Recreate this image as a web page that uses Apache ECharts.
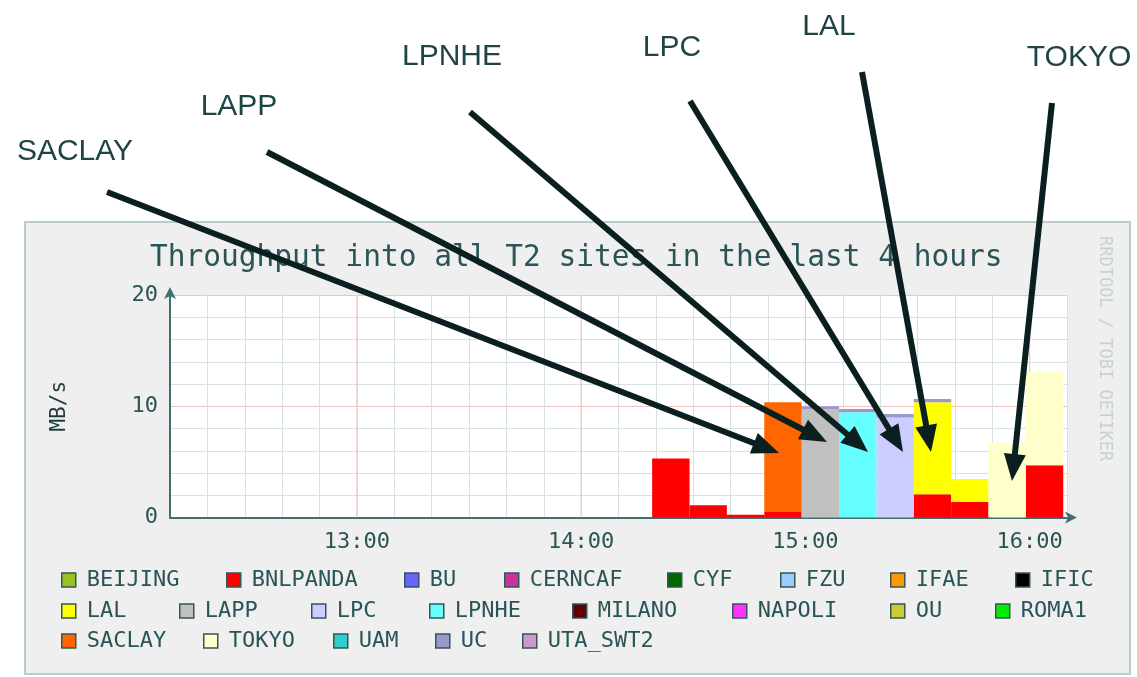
<!DOCTYPE html>
<html><head><meta charset="utf-8">
<script src="https://cdn.jsdelivr.net/npm/echarts@6/dist/echarts.min.js"></script>
<style>html,body{margin:0;padding:0;background:#fff}#c{width:1137px;height:677px}</style>
</head><body><div id="c"></div>
<script>
// ---- data ----
const binStarts = ['14:19','14:29','14:39','14:49','14:59','15:09','15:19','15:29','15:39','15:49','15:59'];
const BNLPANDA = [5.3, 1.1, 0.25, 0.5, 0, 0, 0, 2.1, 1.4, 0, 4.7];
const LAL      = [0, 0, 0, 0, 0, 0, 0, 8.25, 2.05, 0, 0];
const LAPP     = [0, 0, 0, 0, 9.7, 0, 0, 0, 0, 0, 0];
const LPC      = [0, 0, 0, 0, 0, 0, 9.0, 0, 0, 0, 0];
const LPNHE    = [0, 0, 0, 0, 0, 9.45, 0, 0, 0, 0, 0];
const SACLAY   = [0, 0, 0, 9.85, 0, 0, 0, 0, 0, 0, 0];
const TOKYO    = [0, 0, 0, 0, 0, 0, 0, 0, 0, 6.75, 8.4];
const UC       = [0, 0, 0, 0, 0.3, 0.3, 0.3, 0.3, 0, 0, 0];
const sites = ['BEIJING','BNLPANDA','BU','CERNCAF','CYF','FZU','IFAE','IFIC',
               'LAL','LAPP','LPC','LPNHE','MILANO','NAPOLI','OU','ROMA1',
               'SACLAY','TOKYO','UAM','UC','UTA_SWT2'];
const hourTicks = ['13:00','14:00','15:00','16:00'];
const yTicks = [0, 10, 20];
const titleText = 'Throughput into all T2 sites in the last 4 hours';
const yName = 'MB/s';
const credit = 'RRDTOOL / TOBI OETIKER';
const notes = ['SACLAY','LAPP','LPNHE','LPC','LAL','TOKYO'];

// ---- style / layout ----
const siteValues = {BNLPANDA, LAL, LAPP, LPC, LPNHE, SACLAY, TOKYO, UC};
const colors = ['#99c21e','#ff0000','#6666ff','#cc3399','#006600','#99ccff','#ff9900','#000000',
                '#ffff00','#c0c0c0','#ccccff','#66ffff','#660000','#ff33ff','#cccc33','#00ee00',
                '#ff6600','#ffffcc','#33cccc','#9999cc','#cc99cc'];
const legendPos = [
  [61,569],[226,569],[404,569],[504,569],[667,569],[780,569],[890,569],[1015,569],
  [61,600],[179,600],[311,600],[429,600],[572,600],[732,600],[890,600],[995,600],
  [61,630],[203,630],[333,630],[435,630],[522,630]];
const notePos = [[75,152],[239,107],[452,57],[672,48],[829,27],[1079,58]];
const arrowPos = [[107,192,779,453],[267,152,827,442],[470,112,868,452],[690,101,903,452],[862,72,931,452],[1052,103,1012,481]];
const txt = '#2a5557';
const mono = 'DejaVu Sans Mono';
const BIN = 10;

function toMin(s){ const p = s.split(':').map(Number); return p[0]*60 + p[1]; }
function fmtMin(v){ const h = Math.floor(v/60), m = v%60; return (h<10?'0':'')+h+':'+(m<10?'0':'')+m; }

const base = binStarts.map(() => 0);
const series = sites.map((name, k) => {
  const vals = siteValues[name] || [];
  const data = [];
  vals.forEach((v, i) => {
    if (v > 0) { data.push([toMin(binStarts[i]), base[i], base[i] + v]); base[i] += v; }
  });
  return {
    name, type: 'custom', data, z: 3,
    encode: {x: 0, y: 2},
    itemStyle: {color: colors[k]},
    renderItem: (params, api) => {
      const p0 = api.coord([api.value(0), api.value(1)]);
      const p1 = api.coord([api.value(0) + BIN, api.value(2)]);
      return {type: 'rect', shape: {x: p0[0], y: p1[1], width: p1[0] - p0[0], height: p0[1] - p1[1]},
              style: {fill: colors[k]}};
    }
  };
});

const minor = '#d6e2e2', major = '#f0c2c2';
// hour major grid lines (drawn beneath the bars)
series.unshift({
  name: '_hours', type: 'custom', z: 1, silent: true,
  data: hourTicks.map(t => [toMin(t)]),
  encode: {x: 0},
  renderItem: (params, api) => {
    const a = api.coord([api.value(0), 0]);
    const b = api.coord([api.value(0), 20]);
    return {type: 'line', shape: {x1: a[0], y1: a[1], x2: b[0], y2: b[1]}, style: {stroke: major, lineWidth: 1}};
  }
});

const legends = sites.map((name, k) => ({
  data: [name], left: legendPos[k][0], top: legendPos[k][1], padding: 0,
  icon: 'rect', itemWidth: 14, itemHeight: 14, selectedMode: false,
  itemStyle: {borderColor: '#345656', borderWidth: 1.5},
  textStyle: {fontFamily: mono, fontSize: 22, lineHeight: 22, color: txt, padding: [0,0,0,6]}
}));

const hourSet = new Set(hourTicks.map(toMin));
const ySet = new Set(yTicks);

function arrow(a){
  const [x1,y1,x2,y2] = a;
  const dx = x2-x1, dy = y2-y1, L = Math.hypot(dx,dy), ux = dx/L, uy = dy/L;
  const hl = 27, hw = 11;
  const bx = x2-ux*hl, by = y2-uy*hl;
  return [
    {type:'line', z: 100, shape:{x1, y1, x2: bx+ux*3, y2: by+uy*3}, style:{stroke:'#0c1f20', lineWidth:6}},
    {type:'polygon', z: 100, shape:{points:[[x2,y2],[bx-uy*hw, by+ux*hw],[bx+uy*hw, by-ux*hw]]}, style:{fill:'#0c1f20'}}
  ];
}

const graphics = [
  {type:'rect', z:-10, shape:{x:25, y:222, width:1105, height:452}, style:{fill:'#efefef', stroke:'#b8cccc', lineWidth:2}},
  {type:'text', x:1104, y:236, rotation:-Math.PI/2, style:{text:credit, fontFamily:mono, fontSize:17, fill:'#c6d2d2', align:'left', verticalAlign:'middle'}}
];
notes.forEach((n, i) => graphics.push({type:'text', z:100, x:notePos[i][0], y:notePos[i][1],
  style:{text:n, fontFamily:'Liberation Sans', fontSize:30, fill:'#1e4446', align:'center', verticalAlign:'middle'}}));
arrowPos.forEach(a => arrow(a).forEach(e => graphics.push(e)));

const chart = echarts.init(document.getElementById('c'));
chart.setOption({
  backgroundColor: '#ffffff',
  animation: false,
  title: {text: titleText, left: 150, top: 243, padding: 0,
          textStyle: {fontFamily: mono, fontSize: 29.5, fontWeight: 'normal', color: txt}},
  grid: {left: 170, top: 295, width: 897, height: 222.5, show: true, backgroundColor: '#ffffff', borderWidth: 0},
  xAxis: {
    type: 'value', min: 730, max: 970, interval: 10,
    axisLine: {show: true, lineStyle: {color: '#3f6f70', width: 2}, symbol: ['none','arrow'], symbolSize: [9,12], symbolOffset: [0,10]},
    axisTick: {show: false},
    axisLabel: {formatter: v => hourSet.has(v) ? fmtMin(v) : '', fontFamily: mono, fontSize: 22, color: txt, margin: 14},
    splitLine: {show: true, lineStyle: {color: minor, width: 1}}
  },
  yAxis: {
    type: 'value', min: 0, max: 20, interval: 2,
    name: yName, nameLocation: 'middle', nameRotate: 90, nameGap: 100,
    nameTextStyle: {fontFamily: mono, fontSize: 21, color: '#1e3c3e'},
    axisLine: {show: true, lineStyle: {color: '#3f6f70', width: 2}, symbol: ['none','arrow'], symbolSize: [9,12], symbolOffset: [0,8]},
    axisTick: {show: false},
    axisLabel: {formatter: v => ySet.has(v) ? String(v) : '', fontFamily: mono, fontSize: 22, color: txt, margin: 12},
    splitLine: {show: true, lineStyle: {color: [major, minor, minor, minor, minor], width: 1}}
  },
  legend: legends,
  series: series,
  graphic: graphics
});
</script></body></html>
